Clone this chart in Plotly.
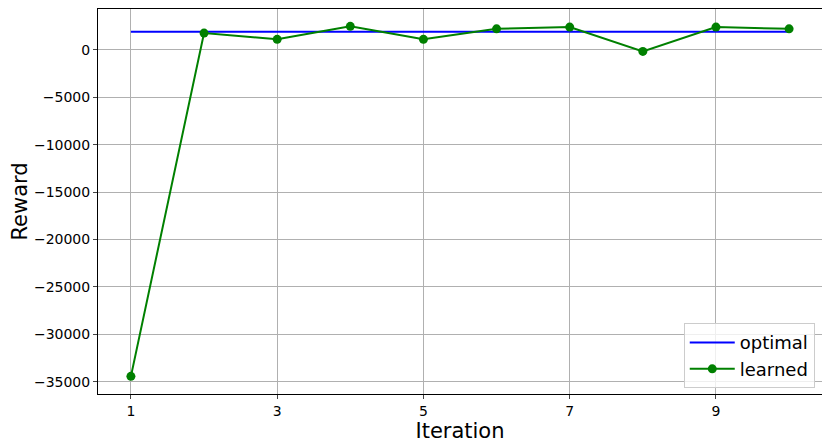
import plotly.graph_objects as go

iterations = [1, 2, 3, 4, 5, 6, 7, 8, 9, 10]
learned = [-34440, 1760, 1100, 2470, 1100, 2210, 2390, -170, 2390, 2210]
optimal = [1900] * 10
x_ticks = [1, 3, 5, 7, 9]
y_ticks = [0, -5000, -10000, -15000, -20000, -25000, -30000, -35000]

fig = go.Figure()
fig.add_trace(go.Scatter(x=iterations, y=optimal, mode="lines", name="optimal",
                         line=dict(color="blue", width=2)))
fig.add_trace(go.Scatter(x=iterations, y=learned, mode="lines+markers", name="learned",
                         line=dict(color="green", width=2),
                         marker=dict(color="green", size=9)))

# page body adds ~8px offset, so the figure is a bit smaller than the window
fig.update_layout(width=822, height=441, margin=dict(l=90, r=8, t=1, b=55, autoexpand=False),
                  paper_bgcolor="white", plot_bgcolor="white",
                  font=dict(family="DejaVu Sans", color="black"),
                  legend=dict(x=0.99, y=0.015, xanchor="right", yanchor="bottom",
                              bgcolor="rgba(255,255,255,0.8)", bordercolor="#cccccc",
                              borderwidth=1, font=dict(size=18), itemwidth=45,
                              tracegroupgap=2))
fig.update_xaxes(range=[0.55, 10.45], tickvals=x_ticks, title=dict(text="Iteration", font=dict(size=21), standoff=4),
                 showgrid=True, gridcolor="#b0b0b0", gridwidth=1,
                 showline=True, linecolor="black", linewidth=1, mirror=True,
                 ticks="outside", ticklen=4, tickfont=dict(size=14), zeroline=False)
fig.update_yaxes(range=[-36300, 4300], tickvals=y_ticks, title=dict(text="Reward", font=dict(size=21), standoff=6),
                 showgrid=True, gridcolor="#b0b0b0", gridwidth=1,
                 showline=True, linecolor="black", linewidth=1, mirror=True,
                 ticks="outside", ticklen=4, tickfont=dict(size=14), zeroline=False,
                 tickformat="d")

fig.write_html("out.html")
